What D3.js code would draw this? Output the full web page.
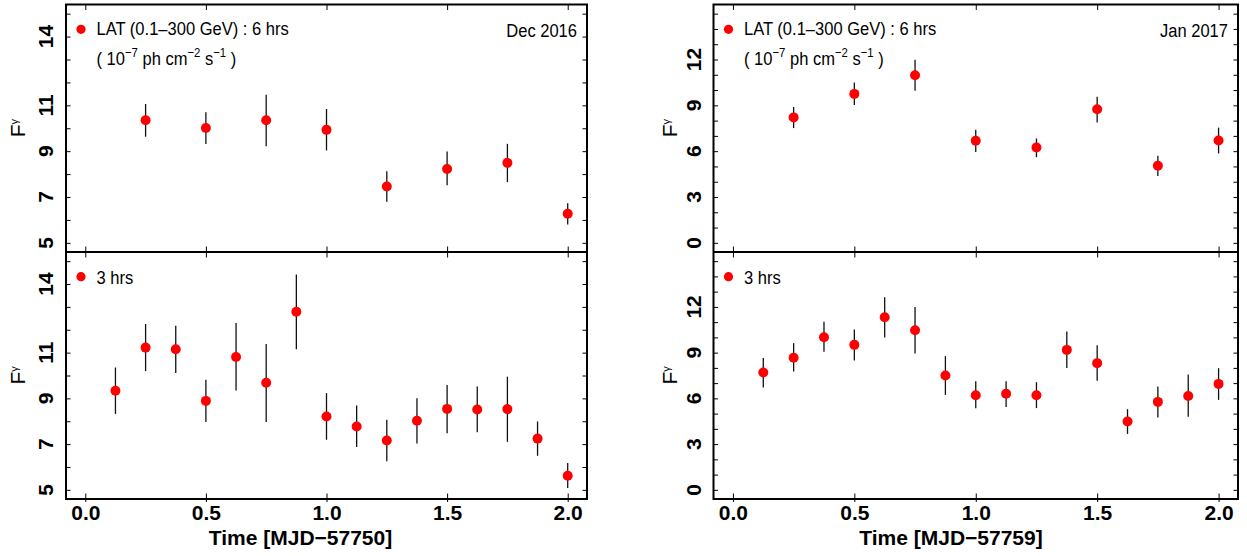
<!DOCTYPE html>
<html>
<head>
<meta charset="utf-8">
<script src="https://cdn.jsdelivr.net/npm/d3@7"></script>
<style>
  body { margin: 0; background: #fff; }
  text { font-family: "Liberation Sans", Arial, sans-serif; }
</style>
</head>
<body>
<div id="chart"></div>
<script>
// time bins (days after the MJD offset)
const time6 = [0.25, 0.5, 0.75, 1.0, 1.25, 1.5, 1.75, 2.0];
const time3 = [0.125, 0.25, 0.375, 0.5, 0.625, 0.75, 0.875, 1.0, 1.125, 1.25, 1.375, 1.5, 1.625, 1.75, 1.875, 2.0];
const xTicks = [0, 0.5, 1, 1.5, 2];

// Dec 2016 (MJD 57750)
const decFlux6 = [10.35, 10.01, 10.35, 9.93, 7.46, 8.22, 8.49, 6.27];
const decLow6  = [9.63, 9.31, 9.22, 9.03, 6.79, 7.51, 7.65, 5.80];
const decHigh6 = [11.06, 10.70, 11.46, 10.84, 8.12, 8.99, 9.32, 6.73];
const decFlux3 = [9.33, 11.22, 11.15, 8.89, 10.81, 9.68, 12.79, 8.21, 7.77, 7.16, 8.02, 8.54, 8.51, 8.53, 7.24, 5.62];
const decLow3  = [8.32, 10.19, 10.11, 7.97, 9.34, 7.97, 11.15, 7.19, 6.87, 6.25, 7.03, 7.48, 7.52, 7.10, 6.49, 5.08];
const decHigh3 = [10.35, 12.25, 12.18, 9.81, 12.30, 11.38, 14.42, 9.23, 8.69, 8.07, 9.01, 9.59, 9.52, 9.95, 7.99, 6.17];
const decTickLabels = [5, 7, 9, 11, 14];
const decMinorTicks = [5, 6, 7, 8, 9, 10, 11, 12, 13, 14, 15];

// Jan 2017 (MJD 57759)
const janFlux6 = [8.21, 9.75, 10.97, 6.68, 6.24, 8.74, 5.04, 6.70];
const janLow6  = [7.51, 9.02, 9.96, 5.94, 5.61, 7.88, 4.38, 5.85];
const janHigh6 = [8.89, 10.49, 11.98, 7.40, 6.83, 9.57, 5.70, 7.54];
const janFlux3 = [7.70, 8.66, 10.01, 9.51, 11.32, 10.47, 7.50, 6.21, 6.30, 6.21, 9.18, 8.31, 4.48, 5.77, 6.16, 6.95];
const janLow3  = [6.71, 7.76, 9.05, 8.49, 9.99, 8.94, 6.23, 5.36, 5.44, 5.36, 8.00, 7.15, 3.67, 4.75, 4.79, 5.90];
const janHigh3 = [8.64, 9.62, 11.02, 10.52, 12.64, 12.00, 8.77, 7.13, 7.13, 7.06, 10.38, 9.49, 5.29, 6.78, 7.57, 7.98];
const janTickLabels = [0, 3, 6, 9, 12];
const janMinorTicks = [0, 1, 2, 3, 4, 5, 6, 7, 8, 9, 10, 11, 12, 13, 14, 15];

const svg = d3.select("#chart")
    .append("svg")
    .attr("width", 1247)
    .attr("height", 556);

svg.append("rect").attr("width", 1247).attr("height", 556).attr("fill", "#fff");

const rows = { top: 4.5, mid: 252, bottom: 499 };

const columns = [
    {
        left: 66, right: 587, yLabelX: 53, fLabelX: 25, titleX: 300.5,
        yDomain: [4.6, 15.4], tickLabels: decTickLabels, minorTicks: decMinorTicks,
        month: "Dec 2016", title: "Time [MJD\u221257750]",
        panels: [
            { t: time6, flux: decFlux6, low: decLow6, high: decHigh6 },
            { t: time3, flux: decFlux3, low: decLow3, high: decHigh3 }
        ]
    },
    {
        left: 713.5, right: 1238, yLabelX: 701, fLabelX: 676.5, titleX: 951,
        yDomain: [-0.6, 15.6], tickLabels: janTickLabels, minorTicks: janMinorTicks,
        month: "Jan 2017", title: "Time [MJD\u221257759]",
        panels: [
            { t: time6, flux: janFlux6, low: janLow6, high: janHigh6 },
            { t: time3, flux: janFlux3, low: janLow3, high: janHigh3 }
        ]
    }
];

function stripDomain(g) {
    g.select(".domain").remove();
    g.selectAll(".tick line").attr("stroke", "#000");
}

// legend text is a narrow helvetica in the original, so squeeze it a bit
function narrowText(x, y, size) {
    return svg.append("g")
        .attr("transform", `translate(${x},${y}) scale(0.87,1)`)
        .append("text")
        .attr("font-size", size)
        .attr("fill", "#000");
}

// rotated text lives in a rotated group
function verticalText(x, y) {
    return svg.append("g")
        .attr("transform", `translate(${x},${y}) rotate(-90)`)
        .append("text")
        .attr("fill", "#000");
}

columns.forEach(col => {
    const x = d3.scaleLinear().domain([-0.08, 2.08]).range([col.left, col.right]);

    col.panels.forEach((p, i) => {
        const y0 = i === 0 ? rows.top : rows.mid;
        const y1 = i === 0 ? rows.mid : rows.bottom;
        const last = i === 1;
        const y = d3.scaleLinear().domain(col.yDomain).range([y1, y0]);

        // ticks on all four sides, pointing inward
        const bottomAxis = svg.append("g")
            .attr("transform", `translate(0,${y1})`)
            .call(d3.axisBottom(x).tickValues(xTicks).tickSizeInner(-5.5).tickSizeOuter(0)
                .tickPadding(6).tickFormat(last ? d3.format(".1f") : ""))
            .call(stripDomain);
        if (last) {
            bottomAxis.selectAll(".tick line").attr("y1", 3);
            bottomAxis.selectAll(".tick text")
                .attr("font-size", 21)
                .attr("font-weight", "bold")
                .attr("font-family", "Liberation Sans, Arial, sans-serif")
                .attr("fill", "#000");
        }
        svg.append("g")
            .attr("transform", `translate(0,${y0})`)
            .call(d3.axisTop(x).tickValues(xTicks).tickSizeInner(-5.5).tickSizeOuter(0).tickFormat(""))
            .call(stripDomain);
        svg.append("g")
            .attr("transform", `translate(${col.left},0)`)
            .call(d3.axisLeft(y).tickValues(col.minorTicks).tickSizeInner(-4.5).tickSizeOuter(0).tickFormat(""))
            .call(stripDomain);
        svg.append("g")
            .attr("transform", `translate(${col.right},0)`)
            .call(d3.axisRight(y).tickValues(col.minorTicks).tickSizeInner(-4.5).tickSizeOuter(0).tickFormat(""))
            .call(stripDomain);

        // rotated y tick labels
        col.tickLabels.forEach(d => {
            verticalText(col.yLabelX, y(d))
                .attr("text-anchor", "middle")
                .attr("font-size", 21)
                .attr("font-weight", "bold")
                .text(d);
        });

        // F_gamma label
        const fLabel = verticalText(col.fLabelX, (y0 + y1) / 2 + 9).attr("font-size", 21);
        fLabel.append("tspan").text("F");
        fLabel.append("tspan").attr("font-size", 11).attr("dy", -7).text("\u03b3");

        // error bars then points
        const idx = d3.range(p.t.length);
        svg.append("g").selectAll("line")
            .data(idx)
            .enter()
            .append("line")
            .attr("x1", k => x(p.t[k]))
            .attr("x2", k => x(p.t[k]))
            .attr("y1", k => y(p.low[k]))
            .attr("y2", k => y(p.high[k]))
            .attr("stroke", "#111")
            .attr("stroke-width", 1.3);
        svg.append("g").selectAll("circle")
            .data(idx)
            .enter()
            .append("circle")
            .attr("cx", k => x(p.t[k]))
            .attr("cy", k => y(p.flux[k]))
            .attr("r", 5)
            .attr("fill", "#ff0000");

        // legend
        if (i === 0) {
            svg.append("circle").attr("cx", col.left + 15).attr("cy", y0 + 24.8).attr("r", 4.6).attr("fill", "#ff0000");
            narrowText(col.left + 30.5, y0 + 30.5, 19).text("LAT (0.1\u2013300 GeV) : 6 hrs");
            const unit = narrowText(col.left + 30.5, y0 + 60.5, 19);
            unit.append("tspan").text("( 10");
            unit.append("tspan").attr("font-size", 13).attr("dy", -8).text("\u22127");
            unit.append("tspan").attr("dy", 8).text(" ph cm");
            unit.append("tspan").attr("font-size", 13).attr("dy", -8).text("\u22122");
            unit.append("tspan").attr("dy", 8).text(" s");
            unit.append("tspan").attr("font-size", 13).attr("dy", -8).text("\u22121");
            unit.append("tspan").attr("dy", 8).text(" )");
            narrowText(col.right - 10, y0 + 32.2, 19).attr("text-anchor", "end").text(col.month);
        } else {
            svg.append("circle").attr("cx", col.left + 15).attr("cy", y0 + 24.7).attr("r", 4.6).attr("fill", "#ff0000");
            narrowText(col.left + 30.5, y0 + 32.3, 19).text("3 hrs");
        }
    });

    // frame and divider
    svg.append("rect")
        .attr("x", col.left).attr("y", rows.top)
        .attr("width", col.right - col.left).attr("height", rows.bottom - rows.top)
        .attr("fill", "none").attr("stroke", "#000").attr("stroke-width", 2);
    svg.append("line")
        .attr("x1", col.left).attr("x2", col.right)
        .attr("y1", rows.mid).attr("y2", rows.mid)
        .attr("stroke", "#000").attr("stroke-width", 2);

    svg.append("text")
        .attr("x", col.titleX).attr("y", 545)
        .attr("text-anchor", "middle")
        .attr("font-size", 21)
        .attr("font-weight", "bold")
        .text(col.title);
});
</script>
</body>
</html>
